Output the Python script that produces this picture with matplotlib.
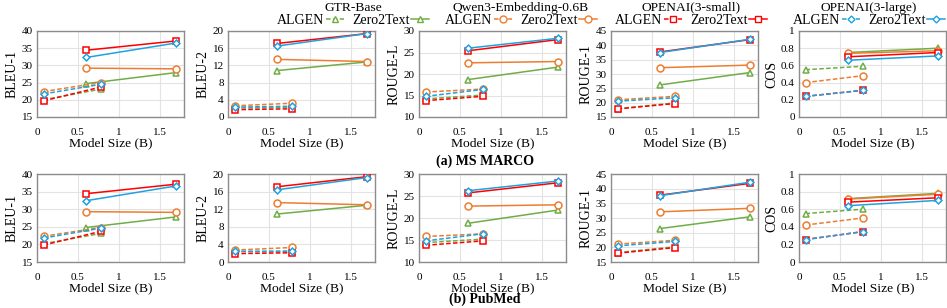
import matplotlib.pyplot as plt
import matplotlib.lines as mlines
import numpy as np

plt.rcParams['font.family'] = ['Liberation Serif', 'DejaVu Serif']

# x positions (model size in B)
x_algen = [0.08, 0.78]
x_zero = [0.6, 1.7]

encoders = ['GTR-Base', 'Qwen3-Embedding-0.6B', 'OPENAI(3-small)', 'OPENAI(3-large)']
colors = ['#70AD47', '#ED7D31', '#FF0000', '#1FA2DF']
markers = ['^', 'o', 's', 'D']

metrics = ['BLEU-1', 'BLEU-2', 'ROUGE-L', 'ROUGE-1', 'COS']
ylims = [(15, 40), (0, 20), (10, 30), (15, 45), (0, 1)]
ysteps = [5, 4, 5, 5, 0.2]

# MS MARCO: per metric, per encoder -> (algen pair, zero2text pair)
marco_algen = {
    'BLEU-1': [[20.0, 23.1], [22.4, 25.0], [19.7, 23.7], [21.7, 24.5]],
    'BLEU-2': [[2.1, 2.2], [2.6, 3.2], [1.7, 1.9], [2.3, 2.5]],
    'ROUGE-L': [[14.2, 15.1], [15.8, 16.5], [13.8, 14.8], [14.8, 16.4]],
    'ROUGE-1': [[17.9, 19.9], [21.0, 22.2], [17.8, 19.7], [20.5, 21.7]],
    'COS': [[0.55, 0.59], [0.40, 0.48], [0.24, 0.31], [0.24, 0.31]],
}
marco_zero = {
    'BLEU-1': [[24.7, 27.9], [29.2, 29.0], [34.4, 37.1], [32.3, 36.5]],
    'BLEU-2': [[10.8, 12.8], [13.4, 12.9], [17.1, 19.4], [16.5, 19.4]],
    'ROUGE-L': [[18.7, 21.6], [22.6, 22.9], [25.4, 28.0], [26.0, 28.3]],
    'ROUGE-1': [[26.2, 30.5], [32.2, 33.1], [37.7, 42.0], [37.5, 42.1]],
    'COS': [[0.75, 0.80], [0.74, 0.77], [0.70, 0.75], [0.66, 0.71]],
}
# PubMed
pubmed_algen = {
    'BLEU-1': [[20.2, 23.1], [22.3, 24.8], [19.8, 23.7], [21.8, 24.6]],
    'BLEU-2': [[2.4, 2.3], [2.7, 3.3], [1.9, 2.1], [2.4, 2.5]],
    'ROUGE-L': [[14.4, 15.2], [15.8, 16.4], [13.8, 14.8], [14.8, 16.4]],
    'ROUGE-1': [[18.2, 20.2], [21.1, 22.4], [18.0, 19.9], [20.5, 22.0]],
    'COS': [[0.55, 0.60], [0.42, 0.50], [0.255, 0.345], [0.255, 0.345]],
}
pubmed_zero = {
    'BLEU-1': [[24.8, 27.8], [29.3, 29.1], [34.4, 37.1], [32.4, 36.6]],
    'BLEU-2': [[10.9, 12.9], [13.5, 13.0], [17.1, 19.4], [16.4, 19.2]],
    'ROUGE-L': [[18.8, 21.8], [22.7, 23.0], [25.7, 28.0], [26.2, 28.4]],
    'ROUGE-1': [[26.4, 30.4], [32.1, 33.3], [37.8, 41.8], [37.6, 42.2]],
    'COS': [[0.72, 0.78], [0.715, 0.77], [0.68, 0.73], [0.64, 0.70]],
}

W, H = 947, 308
fig = plt.figure(figsize=(W / 100, H / 100), dpi=100)

lefts = [37, 228, 419, 611, 799]
aw = 147
rows = [(31, 117, marco_algen, marco_zero), (174, 262, pubmed_algen, pubmed_zero)]
dash = (0, (3, 1.5))

for top, bot, d_algen, d_zero in rows:
    for j, m in enumerate(metrics):
        ax = fig.add_axes([lefts[j] / W, 1 - bot / H, aw / W, (bot - top) / H])
        for k in range(4):
            ms = 5 if markers[k] != 'D' else 3.5
            ax.plot(x_algen, d_algen[m][k], color=colors[k], marker=markers[k],
                    markerfacecolor='white', markersize=ms, linewidth=1.1,
                    linestyle=dash, markeredgewidth=1.1, zorder=3)
            ax.plot(x_zero, d_zero[m][k], color=colors[k], marker=markers[k],
                    markerfacecolor='white', markersize=ms, linewidth=1.1,
                    markeredgewidth=1.1, zorder=3)
        ax.set_xlim(0, 1.8)
        ax.set_ylim(*ylims[j])
        ax.set_xticks([0, 0.5, 1, 1.5])
        ax.set_xticklabels(['0', '0.5', '1', '1.5'])
        ax.set_yticks(np.arange(ylims[j][0], ylims[j][1] + ysteps[j] / 2, ysteps[j]))
        if m == 'COS':
            ax.set_yticklabels(['0', '0.2', '0.4', '0.6', '0.8', '1'])
        ax.tick_params(length=0, labelsize=8)
        ax.tick_params(axis='x', pad=8)
        ax.tick_params(axis='y', pad=3)
        ax.grid(True, color='#e3e3e3', linewidth=0.8)
        ax.set_axisbelow(True)
        for s in ax.spines.values():
            s.set_color('#8c8c8c')
            s.set_linewidth(1.0)
        ax.set_ylabel(m, fontsize=10, labelpad=2)
        ax.set_xlabel('Model Size (B)', fontsize=9.7, labelpad=0)

fig.text(485 / W, 1 - 161 / H, '(a) MS MARCO', ha='center', va='center',
         fontsize=10, fontweight='bold')
fig.text(485 / W, 1 - 299 / H, '(b) PubMed', ha='center', va='center',
         fontsize=10, fontweight='bold')

# grouped legends on top
centers = [353, 521, 691, 869]
for k in range(4):
    ms = 5 if markers[k] != 'D' else 3.5
    h1 = mlines.Line2D([], [], color=colors[k], marker=markers[k], markerfacecolor='white',
                       markersize=ms, linestyle=dash, linewidth=1.1)
    h2 = mlines.Line2D([], [], color=colors[k], marker=markers[k], markerfacecolor='white',
                       markersize=ms, linewidth=1.1)
    leg = fig.legend(handles=[h1, h2], labels=['ALGEN', 'Zero2Text'], ncol=2,
                     title=encoders[k], title_fontsize=9.7, fontsize=10,
                     loc='upper center', bbox_to_anchor=(centers[k] / W, 1.0 + 8 / H),
                     frameon=False, markerfirst=False, handlelength=1.3,
                     handletextpad=0.1, columnspacing=0.6, borderpad=0.2,
                     labelspacing=0.2)
    leg._legend_box.sep = 0

fig.savefig('out.png', dpi=100)
